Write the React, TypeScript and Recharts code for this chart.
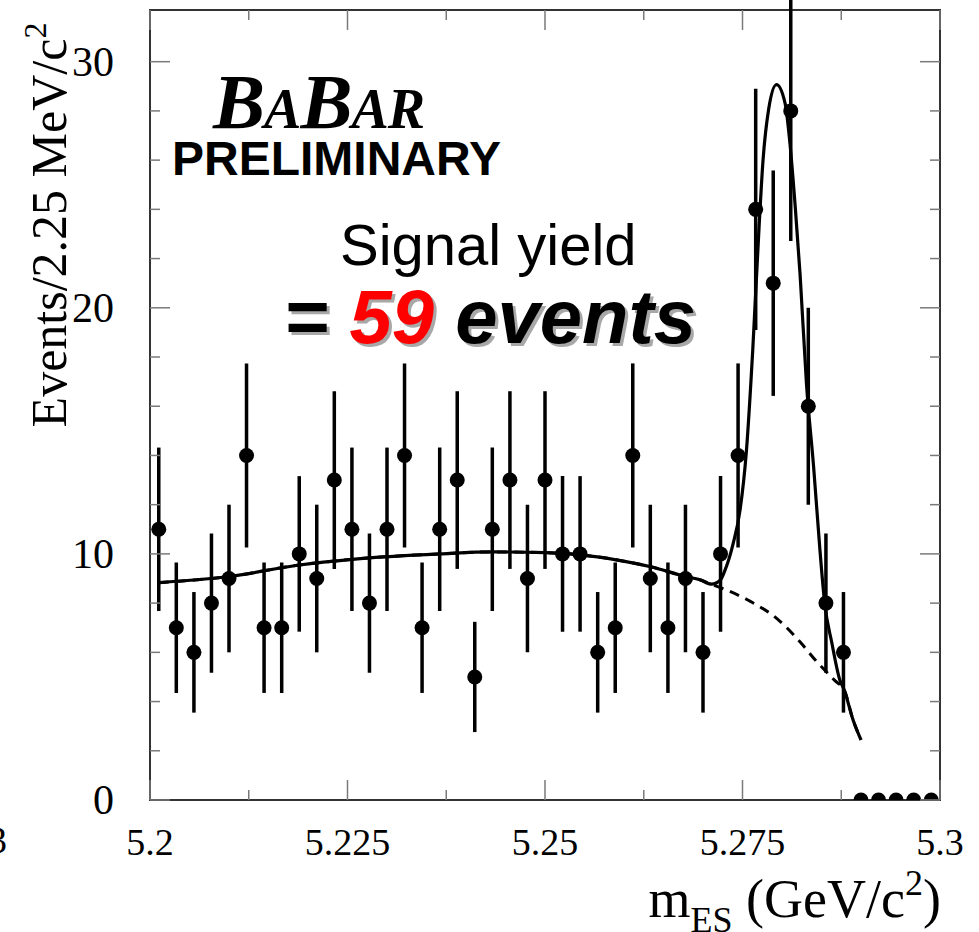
import React from 'react';
import { ComposedChart, XAxis, YAxis, Line, Scatter, ErrorBar, ReferenceArea } from 'recharts';

// m_ES bin centres (GeV/c^2), 45 bins between 5.2 and 5.3
const binMass = [
    5.20111, 5.20333, 5.20556, 5.20778, 5.21, 5.21222, 5.21444, 5.21667, 5.21889,
    5.22111, 5.22333, 5.22556, 5.22778, 5.23, 5.23222, 5.23444, 5.23667, 5.23889,
    5.24111, 5.24333, 5.24556, 5.24778, 5.25, 5.25222, 5.25444, 5.25667, 5.25889,
    5.26111, 5.26333, 5.26556, 5.26778, 5.27, 5.27222, 5.27444, 5.27667, 5.27889,
    5.28111, 5.28333, 5.28556, 5.28778, 5.29, 5.29222, 5.29444, 5.29667, 5.29889,
];
const binCount = [
    11, 7, 6, 8, 9, 14, 7, 7, 10,
    9, 13, 11, 8, 11, 14, 7, 11, 13,
    5, 11, 13, 9, 13, 10, 10, 6, 7,
    14, 9, 7, 9, 6, 10, 14, 24, 21,
    28, 16, 8, 6, 0, 0, 0, 0, 0,
];
const binError = [
    3.32, 2.65, 2.45, 2.83, 3.0, 3.74, 2.65, 2.65, 3.16,
    3.0, 3.61, 3.32, 2.83, 3.32, 3.74, 2.65, 3.32, 3.61,
    2.24, 3.32, 3.61, 3.0, 3.61, 3.16, 3.16, 2.45, 2.65,
    3.74, 3.0, 2.65, 3.0, 2.45, 3.16, 3.74, 4.9, 4.58,
    5.29, 4.0, 2.83, 2.45, 0, 0, 0, 0, 0,
];

// background (ARGUS) fit, dashed
const bkgMass = [
    5.2011, 5.21, 5.2189, 5.2256, 5.2367, 5.2434, 5.25, 5.2545, 5.259, 5.2634,
    5.2678, 5.2696, 5.2711, 5.2722, 5.276, 5.2794, 5.2823, 5.2844, 5.2867, 5.2879, 5.289, 5.29,
];
const bkgFit = [
    8.83, 9.08, 9.55, 9.78, 10.0, 10.08, 10.05, 9.96, 9.76, 9.48,
    9.08, 8.95, 8.76, 8.63, 8.07, 7.36, 6.42, 5.62, 4.85, 4.45, 3.25, 2.44,
];

// total fit (signal + background), solid
const totMass = [
    5.2011, 5.21, 5.2189, 5.2256, 5.2367, 5.2434, 5.25, 5.2545, 5.259, 5.2634,
    5.2678, 5.2696, 5.2711, 5.2722, 5.2728, 5.2738, 5.2747, 5.2755, 5.2763, 5.2771,
    5.2776, 5.2783, 5.2793, 5.2804, 5.281, 5.2817, 5.2823, 5.2831, 5.284, 5.2848,
    5.2854, 5.2863, 5.2873, 5.2879, 5.289, 5.29,
];
const totFit = [
    8.83, 9.08, 9.55, 9.78, 10.0, 10.08, 10.05, 9.96, 9.76, 9.48,
    9.08, 8.95, 8.77, 8.94, 9.35, 10.4, 11.8, 14.2, 18.3, 23.3,
    26.0, 28.05, 29.07, 28.3, 26.7, 24.0, 21.3, 16.9, 13.55, 10.16,
    8.0, 6.4, 4.9, 4.45, 3.25, 2.44,
];

const xTicks = [5.2, 5.2125, 5.225, 5.2375, 5.25, 5.2625, 5.275, 5.2875, 5.3];
const xLabels = [5.2, 5.225, 5.25, 5.275, 5.3];
const yTicks = [0, 2, 4, 6, 8, 10, 12, 14, 16, 18, 20, 22, 24, 26, 28, 30];
const yLabels = [0, 10, 20, 30];

const bins = binMass.map((m, i) => ({ m, n: binCount[i], err: binError[i] }));
const bkgData = bkgMass.map((m, i) => ({ m, v: bkgFit[i] }));
const totData = totMass.map((m, i) => ({ m, v: totFit[i] }));

const SERIF = "'Liberation Serif', 'Times New Roman', serif";
const SANS = "'Liberation Sans', Arial, sans-serif";
const TICK = '#7a7a7a';

const BottomTick = (props: any) => {
    const { x, y, payload } = props;
    const major = xLabels.includes(payload.value);
    return (
        <g>
            <line x1={x} x2={x} y1={y} y2={y - (major ? 20 : 10)} stroke={TICK} strokeWidth={1.5} />
            {major && (
                <text x={x} y={y + 55} textAnchor="middle" fontFamily={SERIF} fontSize={38} fill="#000">
                    {String(payload.value)}
                </text>
            )}
        </g>
    );
};

const TopTick = (props: any) => {
    const { x, y, payload } = props;
    const major = xLabels.includes(payload.value);
    return <line x1={x} x2={x} y1={y} y2={y + (major ? 20 : 10)} stroke={TICK} strokeWidth={1.5} />;
};

const LeftTick = (props: any) => {
    const { x, y, payload } = props;
    const major = yLabels.includes(payload.value);
    return (
        <g>
            <line x1={x} x2={x + (major ? 20 : 10)} y1={y} y2={y} stroke={TICK} strokeWidth={1.5} />
            {major && (
                <text x={x - 36} y={y + 14} textAnchor="end" fontFamily={SERIF} fontSize={42} fill="#000">
                    {String(payload.value)}
                </text>
            )}
        </g>
    );
};

const RightTick = (props: any) => {
    const { x, y, payload } = props;
    const major = yLabels.includes(payload.value);
    return <line x1={x} x2={x - (major ? 20 : 10)} y1={y} y2={y} stroke={TICK} strokeWidth={1.5} />;
};

const Dot = (props: any) => <circle cx={props.cx} cy={props.cy} r={7.5} fill="#000" />;

const App: React.FC = () => (
    <div style={{ position: 'absolute', left: 0, top: 0, width: 979, height: 932, background: '#fff', overflow: 'hidden' }}>
        <ComposedChart width={979} height={932} margin={{ top: 10, right: 39, bottom: 0, left: 0 }}>
            <XAxis
                dataKey="m"
                type="number"
                domain={[5.2, 5.3]}
                allowDataOverflow
                ticks={xTicks}
                interval={0}
                height={132}
                tickSize={0}
                tickMargin={0}
                tickLine={false}
                axisLine={false}
                tick={<BottomTick />}
            />
            <XAxis
                xAxisId="top"
                dataKey="m"
                orientation="top"
                mirror
                type="number"
                domain={[5.2, 5.3]}
                allowDataOverflow
                ticks={xTicks}
                interval={0}
                height={1}
                tickSize={0}
                tickMargin={0}
                tickLine={false}
                axisLine={false}
                tick={<TopTick />}
            />
            <YAxis
                type="number"
                domain={[0, 32.1]}
                allowDataOverflow
                ticks={yTicks}
                interval={0}
                width={150}
                tickSize={0}
                tickMargin={0}
                tickLine={false}
                axisLine={false}
                tick={<LeftTick />}
            />
            <YAxis
                yAxisId="right"
                orientation="right"
                mirror
                type="number"
                domain={[0, 32.1]}
                allowDataOverflow
                ticks={yTicks}
                interval={0}
                width={1}
                tickSize={0}
                tickMargin={0}
                tickLine={false}
                axisLine={false}
                tick={<RightTick />}
            />
            <ReferenceArea x1={5.2} x2={5.3} y1={0} y2={32.1} fill="none" stroke="#333" strokeWidth={2} />
            <Line
                xAxisId="top"
                yAxisId="right"
                data={bkgData}
                dataKey="v"
                type="monotone"
                stroke="#000"
                strokeWidth={3}
                strokeDasharray="10 7"
                dot={false}
                isAnimationActive={false}
            />
            <Line
                data={totData}
                dataKey="v"
                type="monotone"
                stroke="#000"
                strokeWidth={3.2}
                dot={false}
                isAnimationActive={false}
            />
            <Scatter data={bins} dataKey="n" shape={<Dot />} isAnimationActive={false}>
                <ErrorBar dataKey="err" direction="y" width={0} stroke="#000" strokeWidth={3.5} />
            </Scatter>
        </ComposedChart>
        <svg width={979} height={932} style={{ position: 'absolute', left: 0, top: 0, pointerEvents: 'none' }}>
            <text x={213} y={128} fontFamily={SERIF} fontStyle="italic" fontWeight="bold" fill="#000" letterSpacing={-1}>
                <tspan fontSize={78}>B</tspan>
                <tspan fontSize={56}>A</tspan>
                <tspan fontSize={78}>B</tspan>
                <tspan fontSize={56}>AR</tspan>
            </text>
            <text x={172} y={175} fontFamily={SANS} fontWeight="bold" fontSize={48} fill="#000">PRELIMINARY</text>
            <text x={340} y={265} fontFamily={SANS} fontSize={58} fill="#000">Signal yield</text>
            <text x={287} y={346} fontFamily={SANS} fontWeight="bold" fontStyle="italic" fontSize={76} fill="#a8a8a8">
                = 59 events
            </text>
            <text x={284} y={343} fontFamily={SANS} fontWeight="bold" fontStyle="italic" fontSize={76} fill="#000">
                {'= '}
                <tspan fill="#ff0000">59</tspan>
                {' events'}
            </text>
            <text transform="translate(66,225) rotate(-90)" textAnchor="middle" fontFamily={SERIF} fontSize={50} fill="#000">
                Events/2.25 MeV/c<tspan dy={-20} fontSize={32}>2</tspan>
            </text>
            <text x={941} y={917} textAnchor="end" fontFamily={SERIF} fontSize={54} fill="#000">
                m<tspan dy={15} fontSize={36}>ES</tspan>
                <tspan dy={-15}> (GeV/c</tspan>
                <tspan dy={-22} fontSize={36}>2</tspan>
                <tspan dy={22}>)</tspan>
            </text>
            <text x={-12} y={853} fontFamily={SERIF} fontSize={38} fill="#000">3</text>
        </svg>
    </div>
);

export default App;
